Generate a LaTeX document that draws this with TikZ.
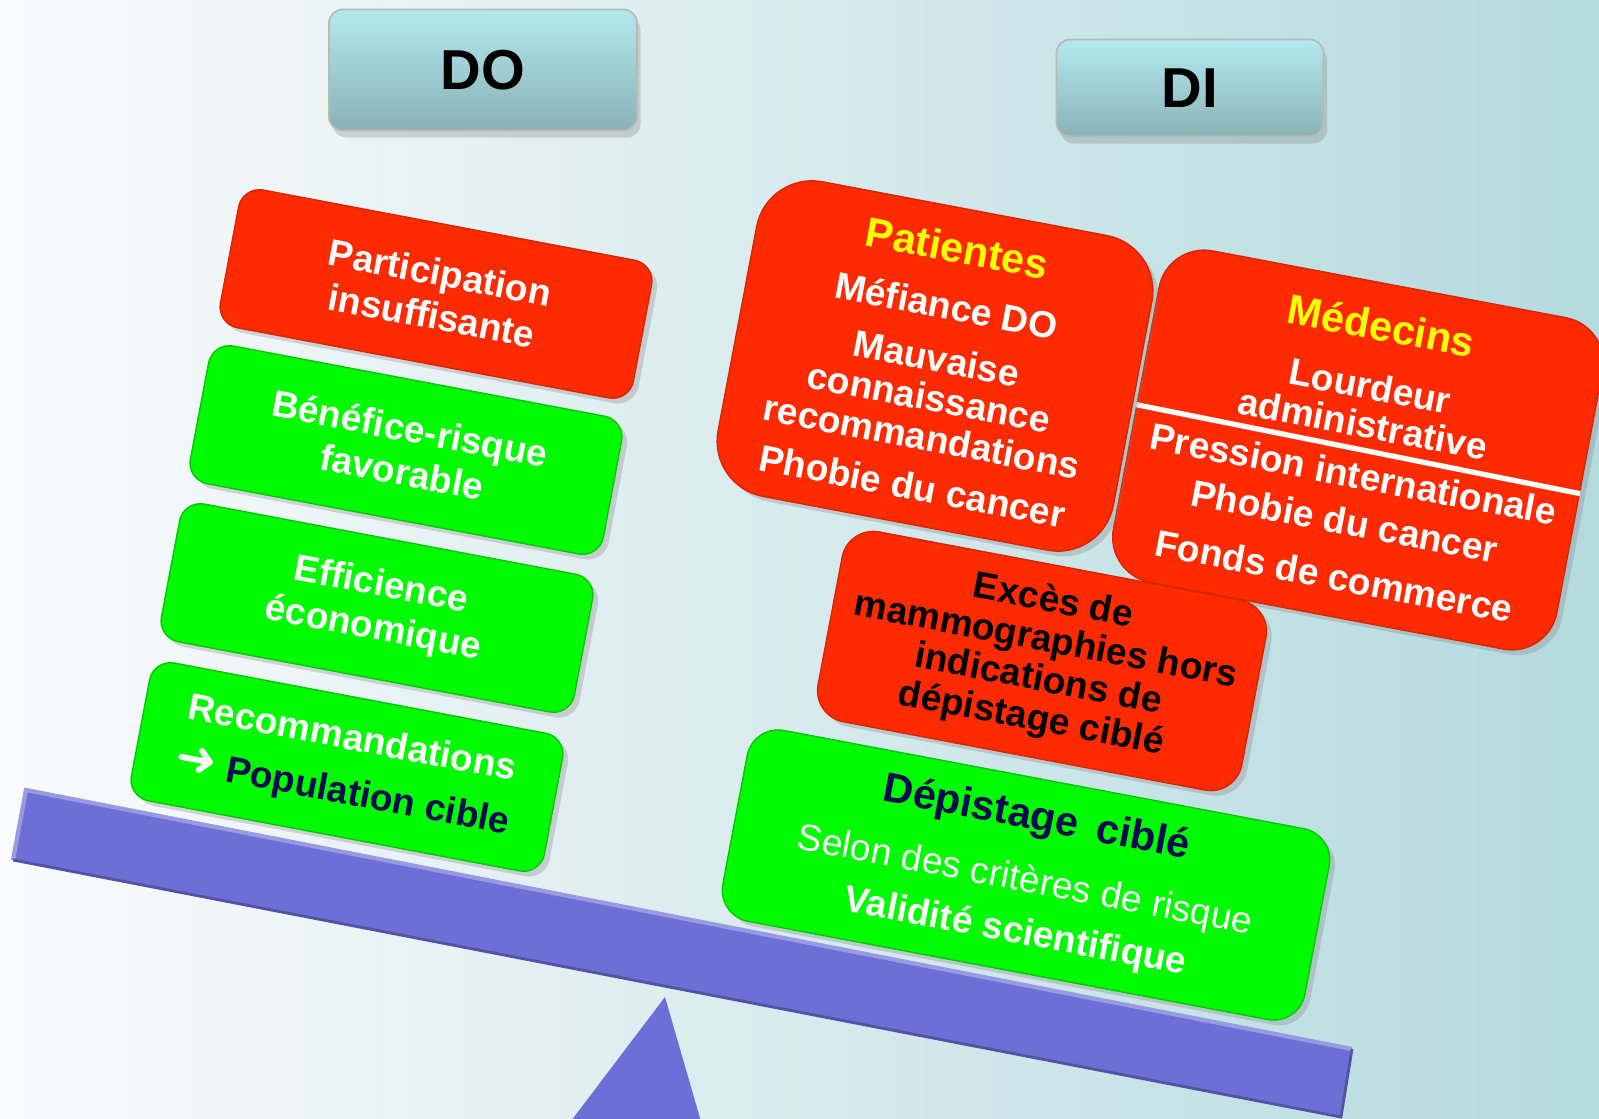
\documentclass[tikz,border=0pt]{standalone}
\usepackage{fontspec}
\setmainfont{Liberation Sans}
\newfontfamily\symfont{DejaVu Sans}
\usetikzlibrary{calc,positioning,shadows}

\definecolor{bgleft}{RGB}{250,251,252}
\definecolor{bgright}{RGB}{180,218,222}
\definecolor{boxred}{RGB}{255,42,0}
\definecolor{boxgreen}{RGB}{0,250,0}
\definecolor{navy}{RGB}{10,10,80}
\definecolor{yel}{RGB}{255,255,0}
\definecolor{beam}{RGB}{110,110,215}
\definecolor{tabtop}{RGB}{178,233,239}
\definecolor{tabbot}{RGB}{138,178,182}

\tikzset{
  tab/.style={rounded corners=4pt, draw=gray!55, line width=0.5pt,
    top color=tabtop, bottom color=tabbot,
    drop shadow={opacity=0.3, shadow xshift=1pt, shadow yshift=-2pt},
    font=\fontsize{16}{18}\selectfont\bfseries, text=black},
  brick/.style={rotate=-10.7, rounded corners=6pt, minimum width=4.2cm,
    minimum height=1.4cm, align=center, inner sep=0pt, text=white,
    font=\fontsize{10.6}{12.4}\selectfont\bfseries,
    drop shadow={opacity=0.3, shadow xshift=1.5pt, shadow yshift=-1.5pt}},
  redbrick/.style={brick, fill=boxred, draw=boxred!85!black},
  greenbrick/.style={brick, fill=boxgreen, draw=boxgreen!80!black},
}
\newcommand{\headtxt}[2]{{\fontsize{11.8}{13}\selectfont\textcolor{#1}{#2}}}

\begin{document}
\begin{tikzpicture}[x=0.01cm, y=-0.01cm]
  \useasboundingbox (0,0) rectangle (1599,1119);
  \clip (0,0) rectangle (1599,1119);
  \shade[left color=bgleft, right color=bgright] (0,0) rectangle (1599,1119);

  % balance
  \coordinate (beamtl) at (26,790);
  \coordinate (beamtr) at (1352,1049);
  \coordinate (beambr) at (1341,1117);
  \coordinate (beambl) at (13,860);
  \coordinate (pivot) at (665,997);
  \fill[beam] (pivot) -- (702,1125) -- (568,1125) -- cycle;
  \fill[beam] (beamtl) -- (beamtr) -- (beambr) -- (beambl) -- cycle;
  \draw[beam!70!white, line width=1.2pt] (beambl) -- (beamtl) -- (beamtr);
  \draw[beam!75!black, line width=0.8pt] (beamtr) -- (beambr) -- (beambl);

  % titles
  \node[tab, minimum width=3.08cm, minimum height=1.21cm] (do) at (483,70) {DO};
  \node[tab, minimum width=2.67cm, minimum height=0.97cm] (di) at (1190,88) {DI};

  % DO side
  \node[redbrick] (part) at (436,294) {Participation\\insuffisante};
  \node[greenbrick] (bene) at (406,450) {Bénéfice-risque\\favorable};
  \node[greenbrick] (effi) at (377,608) {Efficience\\économique};
  \node[greenbrick] (reco) at (347,767)
    {Recommandations\\[3pt]{\symfont\bfseries\fontsize{14}{14}\selectfont ➜}\ \textcolor{navy}{Population cible}};

  % DI side
  \node[redbrick, minimum width=4.51cm, minimum height=3.37cm, rounded corners=13pt,
    font=\fontsize{10.6}{11}\selectfont\bfseries] (med) at (1358,450)
    {\headtxt{yel}{Médecins}\\[6pt]Lourdeur\\administrative\\[3.5pt]Pression internationale\\[2.5pt]Phobie du cancer\\[5pt]Fonds de commerce};
  \draw[white, line width=1.5pt] ($(med.north west)!0.49!(med.south west)$)
    -- ($(med.north east)!0.505!(med.south east)$);
  \node[redbrick, minimum width=4.02cm, minimum height=3.2cm, rounded corners=16pt,
    font=\fontsize{10.6}{11.3}\selectfont\bfseries] (pat) at (935,366)
    {\headtxt{yel}{Patientes}\\[5pt]Méfiance DO\\[4pt]Mauvaise\\connaissance\\recommandations\\[3pt]Phobie du cancer};
  \node[redbrick, minimum width=4.31cm, minimum height=1.93cm, rounded corners=9pt,
    text=black, font=\fontsize{10.6}{11.3}\selectfont\bfseries] (exces) at (1042,661)
    {Excès de\\mammographies hors\\indications de\\dépistage ciblé};
  \node[greenbrick, minimum width=5.92cm, minimum height=1.94cm, rounded corners=9pt,
    font=\fontsize{10.6}{14.8}\selectfont\bfseries] (cible) at (1026,875)
    {\headtxt{navy}{Dépistage\,\ ciblé}\\[3pt]{\mdseries Selon des critères de risque}\\Validité scientifique};
\end{tikzpicture}
\end{document}
